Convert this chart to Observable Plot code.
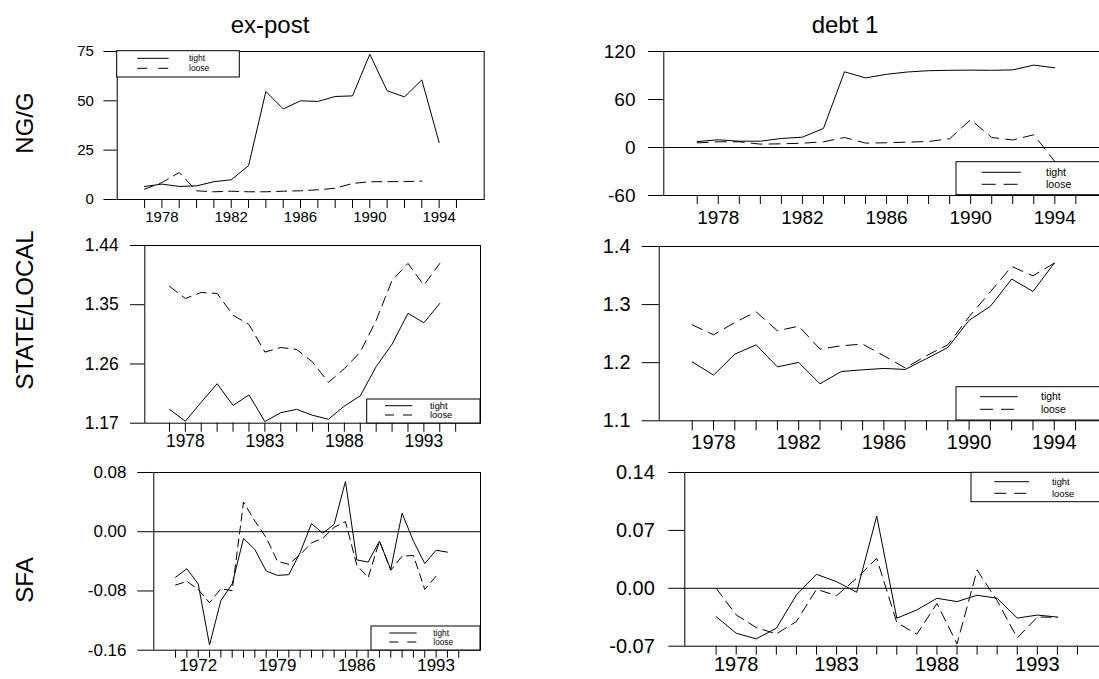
<!DOCTYPE html>
<html><head><meta charset="utf-8">
<script src="https://cdn.jsdelivr.net/npm/d3@7"></script>
<script src="https://cdn.jsdelivr.net/npm/@observablehq/plot@0.6"></script>
<style>
html,body{margin:0;padding:0;width:1099px;height:679px;overflow:hidden;background:#fff;font-family:"Liberation Sans",Arial,sans-serif;color:#000;}
#root{position:relative;width:1099px;height:679px;overflow:hidden;}
.title{position:absolute;font-size:24px;line-height:24px;white-space:nowrap;transform:translateX(-50%);}
.rowlab{position:absolute;font-size:24px;line-height:24px;white-space:nowrap;transform:translate(-50%,-50%) rotate(-90deg);}
svg.plotsvg{position:absolute;overflow:visible;max-width:none;}
</style></head><body><div id="root"></div>
<script>
// ---------- data ----------
const columnTitles = ["ex-post", "debt 1"];
const rowTitles = ["NG/G", "STATE/LOCAL", "SFA"];
const seriesNames = ["tight", "loose"];

const years7794 = [1977,1978,1979,1980,1981,1982,1983,1984,1985,1986,1987,1988,1989,1990,1991,1992,1993,1994];
const years7793 = [1977,1978,1979,1980,1981,1982,1983,1984,1985,1986,1987,1988,1989,1990,1991,1992,1993];
const years7094 = [1970,1971,1972,1973,1974,1975,1976,1977,1978,1979,1980,1981,1982,1983,1984,1985,1986,1987,1988,1989,1990,1991,1992,1993,1994];
const years7093 = [1970,1971,1972,1973,1974,1975,1976,1977,1978,1979,1980,1981,1982,1983,1984,1985,1986,1987,1988,1989,1990,1991,1992,1993];

const exNG_tight = [6.6,7.8,6.6,6.9,9.0,10.0,17.1,54.7,45.9,50.0,49.7,52.2,52.5,73.6,55.1,52.0,60.6,28.9];
const exNG_loose = [5.2,8.6,13.7,4.4,3.9,4.2,3.9,3.9,4.2,4.4,4.9,5.7,8.1,9.0,9.0,9.1,9.3];

const debtNG_tight = [7.5,9.6,7.9,7.9,11.3,12.9,23.8,94.6,87.0,91.5,94.4,96.0,96.5,96.7,96.5,97.0,103.0,99.6];
const debtNG_loose = [5.8,7.1,7.1,4.2,4.6,5.4,7.1,12.5,5.5,5.9,6.7,7.5,11.0,34.8,12.5,9.4,15.9,-17.5];

const exSL_tight = [1.191,1.173,1.202,1.230,1.197,1.213,1.1725,1.186,1.191,1.182,1.176,1.196,1.2115,1.256,1.290,1.337,1.3225,1.352];
const exSL_loose = [1.378,1.3595,1.3686,1.3671,1.334,1.320,1.278,1.285,1.282,1.263,1.232,1.253,1.278,1.3265,1.387,1.4127,1.3797,1.4127];

const debtSL_tight = [1.2015,1.1786,1.2147,1.2308,1.1929,1.2004,1.1637,1.1849,1.1878,1.1901,1.1884,1.207,1.226,1.273,1.297,1.344,1.3226,1.3714];
const debtSL_loose = [1.2652,1.248,1.2692,1.2876,1.2549,1.2629,1.2234,1.2291,1.232,1.2119,1.191,1.212,1.2308,1.279,1.322,1.3656,1.3496,1.3714];

const exSFA_tight = [-0.0615,-0.050,-0.0705,-0.153,-0.093,-0.0705,-0.009,-0.024,-0.053,-0.059,-0.058,-0.028,0.011,-0.002,0.010,0.068,-0.038,-0.041,-0.0127,-0.051,0.025,-0.0127,-0.043,-0.025,-0.0276];
const exSFA_loose = [-0.072,-0.067,-0.078,-0.096,-0.077,-0.0795,0.040,0.0145,-0.008,-0.040,-0.044,-0.031,-0.015,-0.009,0.006,0.0136,-0.045,-0.062,-0.0127,-0.052,-0.033,-0.032,-0.078,-0.060];

const debtSFA_tight = [-0.0342,-0.0543,-0.0611,-0.0483,-0.008,0.0169,0.008,-0.0048,0.0873,-0.0362,-0.0261,-0.0121,-0.0161,-0.0084,-0.0121,-0.036,-0.0324,-0.0348];
const debtSFA_loose = [0.000,-0.0322,-0.0475,-0.0551,-0.0402,-0.0012,-0.0089,0.0121,0.0362,-0.0414,-0.0555,-0.0184,-0.0672,0.0221,-0.015,-0.060,-0.0348,-0.035];

// tick values / labels
const xTicks7795 = [1977,1978,1979,1980,1981,1982,1983,1984,1985,1986,1987,1988,1989,1990,1991,1992,1993,1994,1995];
const xTicks7095 = [1970,1971,1972,1973,1974,1975,1976,1977,1978,1979,1980,1981,1982,1983,1984,1985,1986,1987,1988,1989,1990,1991,1992,1993,1994,1995];
const xLabelsBy4 = [1978,1982,1986,1990,1994];
const xLabelsBy5 = [1978,1983,1988,1993];
const xLabelsBy7 = [1972,1979,1986,1993];

const yTicksExNG = [0,25,50,75];
const yTicksDebtNG = [-60,0,60,120];
const yTicksExSL = [1.17,1.26,1.35,1.44];
const yTicksDebtSL = [1.1,1.2,1.3,1.4];
const yTicksExSFA = [-0.16,-0.08,0.00,0.08];
const yTicksDebtSFA = [-0.07,0.00,0.07,0.14];

// ---------- layout ----------
const FONT = "Liberation Sans, Arial, Helvetica, sans-serif";
const root = document.getElementById("root");
const loc = d3.formatLocale({decimal:".", thousands:",", grouping:[3], currency:["$",""], minus:"-"});

function rows(years, vals){ return vals.map((v,i)=>({year: years[i], v})); }

function panel(c){
  const mt = 20, mb = 45, mr = 15;
  const top = c.y0 - mt;
  const width = c.x1 + mr - c.colLeft;
  const height = c.y1 + mb - top;
  const marks = [];
  if (c.zero) marks.push(Plot.ruleY([0], {stroke:"black", strokeWidth:1}));
  marks.push(Plot.line(rows(c.years, c.tight), {x:"year", y:"v", stroke:"black", strokeWidth:1}));
  marks.push(Plot.line(rows(c.yearsLoose, c.loose), {x:"year", y:"v", stroke:"black", strokeWidth:1, strokeDasharray:c.dash}));
  marks.push(Plot.frame({stroke:"black", strokeWidth:1}));
  marks.push(Plot.axisY({ticks:c.yTicks, tickFormat:c.yFmt, tickSize:c.yTs, tickPadding:c.yTp, fontSize:c.fs, label:null, stroke:"black"}));
  marks.push(Plot.axisX({ticks:c.xTicks, tickFormat:d => c.xLabels.includes(d) ? String(d) : "", tickSize:c.xTs, tickPadding:c.xTp, fontSize:c.fs, label:null, stroke:"black"}));
  const svg = Plot.plot({
    width, height,
    marginLeft: c.x0 - c.colLeft, marginRight: mr, marginTop: mt, marginBottom: mb,
    x: {type:"linear", domain:c.xDomain},
    y: {type:"linear", domain:c.yDomain},
    style: {fontFamily: FONT, color:"black", background:"transparent", overflow:"visible", maxWidth:"none"},
    marks
  });
  svg.classList.add("plotsvg");
  svg.style.left = c.colLeft + "px";
  svg.style.top = top + "px";
  svg.style.maxWidth = "none";
  root.appendChild(svg);
}

const f0 = d => loc.format("d")(d);
const f1 = d => loc.format(".1f")(d);
const f2 = d => loc.format(".2f")(d);

panel({colLeft:40, x0:116.7, x1:483.7, y0:50.7, y1:198.7, xDomain:[1975.42,1996.6], yDomain:[0,75],
  years:years7794, tight:exNG_tight, yearsLoose:years7793, loose:exNG_loose, dash:"10,6",
  xTicks:xTicks7795, xLabels:xLabelsBy4, yTicks:yTicksExNG, yFmt:f0, fs:15, yTs:13.3, yTp:10, xTs:9, xTp:2.7});

panel({colLeft:560, x0:663.3, x1:1109, y0:50.7, y1:194.7, xDomain:[1975.41,1996.6], yDomain:[-60,120], zero:true,
  years:years7794, tight:debtNG_tight, yearsLoose:years7794, loose:debtNG_loose, dash:"11,7",
  xTicks:xTicks7795, xLabels:xLabelsBy4, yTicks:yTicksDebtNG, yFmt:f0, fs:19, yTs:15.3, yTp:13, xTs:9, xTp:6});

panel({colLeft:40, x0:144.3, x1:480, y0:245.3, y1:423, xDomain:[1975.45,1996.56], yDomain:[1.17,1.44],
  years:years7794, tight:exSL_tight, yearsLoose:years7794, loose:exSL_loose, dash:"10,6",
  xTicks:xTicks7795, xLabels:xLabelsBy5, yTicks:yTicksExSL, yFmt:f2, fs:17.5, yTs:14.3, yTp:11.7, xTs:9, xTp:2});

panel({colLeft:560, x0:658.7, x1:1108.3, y0:245.7, y1:420, xDomain:[1975.45,1996.56], yDomain:[1.1,1.4],
  years:years7794, tight:debtSL_tight, yearsLoose:years7794, loose:debtSL_loose, dash:"11,7",
  xTicks:xTicks7795, xLabels:xLabelsBy4, yTicks:yTicksDebtSL, yFmt:f1, fs:20, yTs:17, yTp:11.7, xTs:10, xTp:4});

panel({colLeft:40, x0:153.3, x1:480, y0:472.3, y1:650, xDomain:[1968.08,1996.92], yDomain:[-0.16,0.08], zero:true,
  years:years7094, tight:exSFA_tight, yearsLoose:years7093, loose:exSFA_loose, dash:"8,5",
  xTicks:xTicks7095, xLabels:xLabelsBy7, yTicks:yTicksExSFA, yFmt:f2, fs:17, yTs:16, yTp:11.3, xTs:8, xTp:1});

panel({colLeft:560, x0:684.3, x1:1108.3, y0:472.3, y1:646, xDomain:[1975.44,1996.56], yDomain:[-0.07,0.14], zero:true,
  years:years7794, tight:debtSFA_tight, yearsLoose:years7794, loose:debtSFA_loose, dash:"10,6",
  xTicks:xTicks7795, xLabels:xLabelsBy5, yTicks:yTicksDebtSFA, yFmt:f2, fs:20, yTs:16, yTp:14, xTs:9, xTp:2});

// ---------- titles ----------
[[columnTitles[0], 270], [columnTitles[1], 845]].forEach(([t, cx]) => {
  const d = document.createElement("div");
  d.className = "title"; d.textContent = t;
  d.style.left = cx + "px"; d.style.top = "13px";
  root.appendChild(d);
});
[[rowTitles[0], 123], [rowTitles[1], 310], [rowTitles[2], 580]].forEach(([t, cy]) => {
  const d = document.createElement("div");
  d.className = "rowlab"; d.textContent = t;
  d.style.left = "24.5px"; d.style.top = cy + "px";
  root.appendChild(d);
});

// ---------- legends ----------
const overlay = d3.create("svg").attr("width",1099).attr("height",679)
  .style("position","absolute").style("left","0px").style("top","0px").style("overflow","hidden");
const legends = [
  {x0:116.7, y0:50.7, x1:239.3, y1:77, lx0:137.3, lx1:168.7, ly:[58.3,68.3], tx:189, fs:8.5, dash:"10,11"},
  {x0:956, y0:161.7, x1:1130, y1:194.7, lx0:981.7, lx1:1020.7, ly:[172.3,184.3], tx:1046, fs:10.6, dash:"14,8"},
  {x0:366.7, y0:399, x1:480, y1:423, lx0:385, lx1:412.3, ly:[405.7,415], tx:430, fs:9.3, dash:"9,9"},
  {x0:956, y0:386.7, x1:1130, y1:420, lx0:980, lx1:1017.7, ly:[396.7,409.3], tx:1041, fs:10.4, dash:"13,8"},
  {x0:371, y0:626, x1:480, y1:650, lx0:389.3, lx1:416.7, ly:[633,642], tx:433.3, fs:8.3, dash:"9,9"},
  {x0:971, y0:472.3, x1:1130, y1:501.7, lx0:994.3, lx1:1029, ly:[481.7,493.3], tx:1052, fs:9.3, dash:"12,8"}
];
legends.forEach(L => {
  const g = overlay.append("g");
  g.append("rect").attr("x",L.x0).attr("y",L.y0).attr("width",L.x1-L.x0).attr("height",L.y1-L.y0)
    .attr("fill","white").attr("stroke","black").attr("stroke-width",1);
  seriesNames.forEach((name,i) => {
    g.append("line").attr("x1",L.lx0).attr("x2",L.lx1).attr("y1",L.ly[i]).attr("y2",L.ly[i])
      .attr("stroke","black").attr("stroke-width",1).attr("stroke-dasharray", i===1 ? L.dash : null);
    g.append("text").attr("x",L.tx).attr("y",L.ly[i]).attr("dy","0.35em")
      .attr("font-family",FONT).attr("font-size",L.fs).attr("fill","black").text(name);
  });
});
root.appendChild(overlay.node());
</script></body></html>
